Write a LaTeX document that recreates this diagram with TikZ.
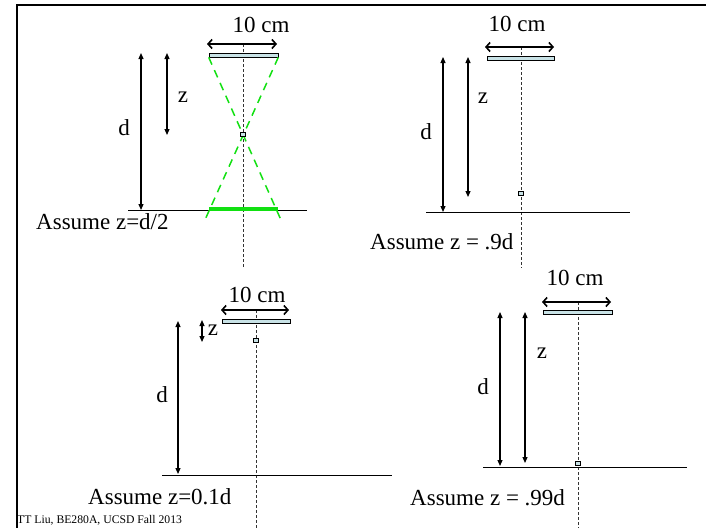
\documentclass[tikz,border=0pt]{standalone}
\usepackage{fontspec}
\setmainfont{Liberation Serif}
\usetikzlibrary{arrows.meta}
\definecolor{barfill}{HTML}{C8E2E6}
\definecolor{raygreen}{HTML}{11E011}
\tikzset{
  frame/.style={line width=2.2pt, black},
  bar/.style={draw=black, line width=0.6pt, fill=barfill, inner sep=0pt, minimum height=4pt},
  pix/.style={draw=black, line width=0.5pt, fill=barfill, inner sep=0pt, minimum width=5pt, minimum height=4pt},
  axisline/.style={dash pattern=on 3pt off 2pt, line width=0.8pt, black!80},
  baseline/.style={line width=1pt, black},
  dimarrow/.style={line width=1.2pt, {Triangle[length=6pt,width=5pt]}-{Triangle[length=6pt,width=5pt]}},
  widtharrow/.style={line width=1.6pt, {Straight Barb[length=4pt,width=9pt]}-{Straight Barb[length=4pt,width=9pt]}},
  ray/.style={raygreen, line width=1.5pt, dash pattern=on 8pt off 6pt},
  lbl/.style={inner sep=0pt, font=\fontsize{23}{27}\selectfont},
  small/.style={inner sep=0pt, font=\fontsize{11.7}{14}\selectfont}
}
\begin{document}
\begin{tikzpicture}[x=1pt,y=-1pt]
\useasboundingbox (0,0) rectangle (706,528);
% frame
\coordinate (fTR) at (706,5);
\coordinate (fTL) at (17,5);
\coordinate (fBL) at (17,528);
\draw[frame] (fTR) -- (fTL) -- (fBL);

% ===== top-left panel =====
\coordinate (tlAxT) at (243,44); \coordinate (tlAxB) at (243,268);
\draw[axisline] (tlAxT) -- (tlAxB);
\coordinate (tlB1) at (128,210); \coordinate (tlB2) at (307,210);
\draw[baseline] (tlB1) -- (tlB2);
\coordinate (tlG1) at (209,209); \coordinate (tlG2) at (278,209);
\draw[raygreen, line width=4pt] (tlG1) -- (tlG2);
\node[bar, minimum width=69pt] (tlBar) at (243.5,55) {};
\coordinate (tlR1) at (281,220); \coordinate (tlR2) at (204,222);
\draw[ray] (tlBar.south west) -- (tlR1);
\draw[ray] (tlBar.south east) -- (tlR2);
\node[pix] (tlPix) at (243,134) {};
\coordinate (tlW1) at (207,44); \coordinate (tlW2) at (277,44);
\draw[widtharrow] (tlW1) -- (tlW2);
\node[lbl, anchor=base] (tlCm) at (261,32) {10 cm};
\coordinate (tlD1) at (141,53); \coordinate (tlD2) at (141,210);
\draw[dimarrow] (tlD1) -- (tlD2);
\coordinate (tlZ1) at (167,53); \coordinate (tlZ2) at (167,135);
\draw[dimarrow] (tlZ1) -- (tlZ2);
\node[lbl] (tlDl) at (124,128) {d};
\node[lbl] (tlZl) at (183,97) {z};
\node[lbl, anchor=base west] (tlAs) at (36,229) {Assume z=d/2};

% ===== top-right panel =====
\coordinate (trAxT) at (521,47); \coordinate (trAxB) at (521,268);
\draw[axisline] (trAxT) -- (trAxB);
\coordinate (trB1) at (426,212); \coordinate (trB2) at (630,212);
\draw[baseline] (trB1) -- (trB2);
\node[bar, minimum width=67pt] (trBar) at (520.5,58) {};
\node[pix] (trPix) at (521,193) {};
\coordinate (trW1) at (485,47); \coordinate (trW2) at (554,47);
\draw[widtharrow] (trW1) -- (trW2);
\node[lbl, anchor=base] (trCm) at (517,31) {10 cm};
\coordinate (trD1) at (443,57); \coordinate (trD2) at (443,212);
\draw[dimarrow] (trD1) -- (trD2);
\coordinate (trZ1) at (468,57); \coordinate (trZ2) at (468,197);
\draw[dimarrow] (trZ1) -- (trZ2);
\node[lbl] (trDl) at (426,132) {d};
\node[lbl] (trZl) at (483,98) {z};
\node[lbl, anchor=base west] (trAs) at (370,249) {Assume z = .9d};

% ===== bottom-left panel =====
\coordinate (blAxT) at (256,310); \coordinate (blAxB) at (256,528);
\draw[axisline] (blAxT) -- (blAxB);
\coordinate (blB1) at (162,475); \coordinate (blB2) at (392,475);
\draw[baseline] (blB1) -- (blB2);
\node[bar, minimum width=68pt] (blBar) at (256,321) {};
\node[pix] (blPix) at (256,340) {};
\coordinate (blW1) at (221,310); \coordinate (blW2) at (289,310);
\draw[widtharrow] (blW1) -- (blW2);
\node[lbl, anchor=base] (blCm) at (257,302) {10 cm};
\coordinate (blD1) at (178,321); \coordinate (blD2) at (178,474);
\draw[dimarrow] (blD1) -- (blD2);
\coordinate (blZ1) at (202,320); \coordinate (blZ2) at (202,342);
\draw[dimarrow] (blZ1) -- (blZ2);
\node[lbl] (blDl) at (162,395) {d};
\node[lbl] (blZl) at (213,330) {z};
\node[lbl, anchor=base west] (blAs) at (88,504) {Assume z=0.1d};

% ===== bottom-right panel =====
\coordinate (brAxT) at (578,302); \coordinate (brAxB) at (578,528);
\draw[axisline] (brAxT) -- (brAxB);
\coordinate (brB1) at (483,467); \coordinate (brB2) at (687,467);
\draw[baseline] (brB1) -- (brB2);
\node[bar, minimum width=69pt] (brBar) at (577.5,312.5) {};
\node[pix] (brPix) at (578,463) {};
\coordinate (brW1) at (542,302); \coordinate (brW2) at (611,302);
\draw[widtharrow] (brW1) -- (brW2);
\node[lbl, anchor=base] (brCm) at (575,285) {10 cm};
\coordinate (brD1) at (500,312); \coordinate (brD2) at (500,466);
\draw[dimarrow] (brD1) -- (brD2);
\coordinate (brZ1) at (525,312); \coordinate (brZ2) at (525,463);
\draw[dimarrow] (brZ1) -- (brZ2);
\node[lbl] (brDl) at (483,387) {d};
\node[lbl] (brZl) at (542,353) {z};
\node[lbl, anchor=base west] (brAs) at (410,505) {Assume z = .99d};

% footer
\node[small, anchor=base west] (foot) at (17,523) {TT Liu, BE280A, UCSD Fall 2013};
\end{tikzpicture}
\end{document}
